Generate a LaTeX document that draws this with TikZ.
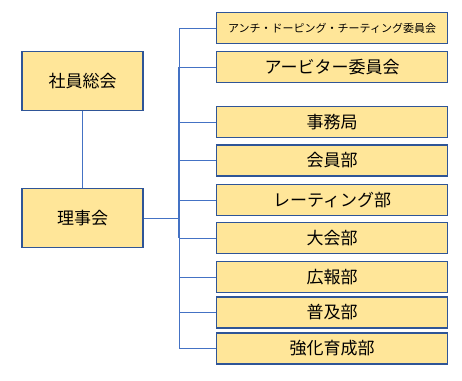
\documentclass[tikz,border=0pt]{standalone}
\usepackage{fontspec}
\setmainfont{Noto Sans CJK JP}
\usepackage{xcolor}
\usepackage{tikz}
\usetikzlibrary{positioning,calc}
\definecolor{boxfill}{HTML}{FFE699}
\definecolor{boxline}{HTML}{2F5597}
\definecolor{linkblue}{HTML}{4472C4}
\tikzset{
  orgbox/.style  = {draw=boxline, fill=boxfill, line width=1.1pt, inner sep=0pt,
                    align=center, font=\fontsize{17}{20}\selectfont},
  topbox/.style  = {orgbox, minimum width=121pt, minimum height=59pt},
  deptbox/.style = {orgbox, minimum width=231pt, minimum height=31pt, anchor=west},
  link/.style    = {draw=linkblue, line width=0.9pt},
}

\begin{document}
\begin{tikzpicture}[x=1pt,y=-1pt]
  \useasboundingbox (0,0) rectangle (462,380);
  % left column
  \node[topbox] (soukai)  at (82.5,81)  {社員総会};
  \node[topbox] (rijikai) at (82.5,218) {理事会};
  % committees and departments
  \node[deptbox, font=\fontsize{11}{13}\selectfont] (adc) at (216,28)
    {アンチ・ドーピング・チーティング委員会};
  \node[deptbox] (arbiter) at (216,67)    {アービター委員会};
  \node[deptbox] (jimu)    at (216,122)   {事務局};
  \node[deptbox] (kaiin)   at (216,160.5) {会員部};
  \node[deptbox] (rating)  at (216,200)   {レーティング部};
  \node[deptbox] (taikai)  at (216,238)   {大会部};
  \node[deptbox] (kouhou)  at (216,277)   {広報部};
  \node[deptbox] (fukyu)   at (216,312.5) {普及部};
  \node[deptbox] (kyouka)  at (216,348.5) {強化育成部};
  % connectors
  \coordinate (bus) at (179.5,0);
  \draw[link] (soukai) -- (rijikai);
  \draw[link] (rijikai.east) -- (bus |- rijikai.east);
  \draw[link] (bus |- adc.west) -- (bus |- kyouka.west);
  \draw[link] ([xshift=-1pt]bus |- arbiter.west) -- ([xshift=-1pt]bus |- taikai.west);
  \foreach \b in {adc,arbiter,jimu,kaiin,rating,taikai,kouhou,fukyu,kyouka}
    \draw[link] (bus |- \b.west) -- (\b.west);
\end{tikzpicture}
\end{document}
